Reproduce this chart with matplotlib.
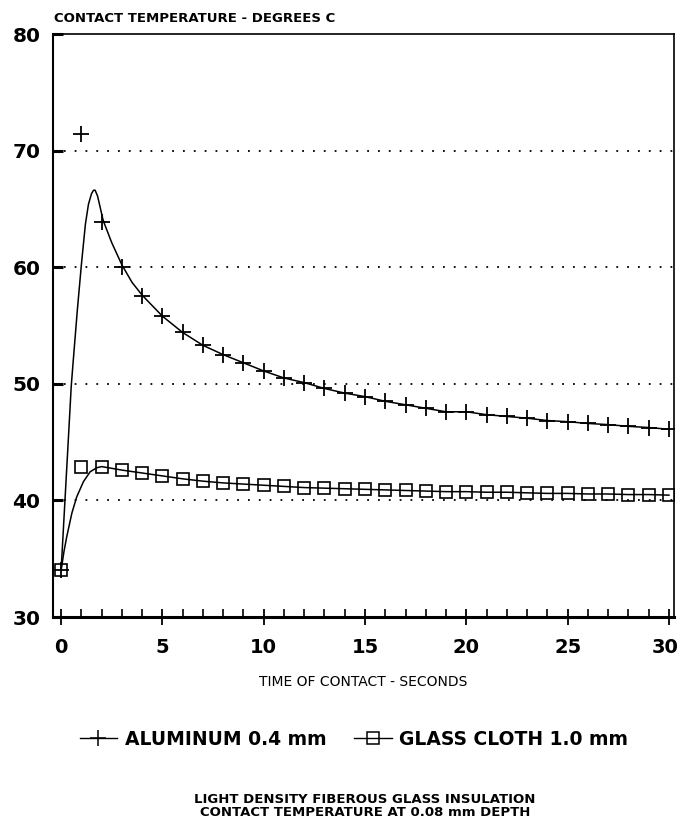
import matplotlib
matplotlib.use("Agg")
import matplotlib.pyplot as plt
import matplotlib.transforms as mtransforms
from matplotlib.lines import Line2D
from matplotlib.ticker import MultipleLocator

plt.rcParams['font.family'] = ['DejaVu Sans']
plt.rcParams['font.weight'] = 'bold'

# Measured points (markers), one reading per second
time_s = list(range(0, 31))
aluminum = [34.0, 71.4, 63.9, 60.0, 57.5, 55.8, 54.4, 53.3, 52.5, 51.8,
            51.1, 50.5, 50.1, 49.6, 49.2, 48.9, 48.5, 48.2, 47.9, 47.6,
            47.6, 47.35, 47.2, 47.05, 46.85, 46.75, 46.6, 46.5, 46.35, 46.25,
            46.1]
glass_cloth = [34.0, 42.9, 42.9, 42.6, 42.35, 42.1, 41.85, 41.65, 41.5, 41.4,
               41.3, 41.2, 41.1, 41.05, 41.0, 40.95, 40.9, 40.85, 40.8, 40.75,
               40.75, 40.7, 40.7, 40.65, 40.6, 40.6, 40.55, 40.55, 40.5, 40.5,
               40.45]

# Fitted curves
al_fit_t = [0, 0.2, 0.4, 0.5, 0.6, 0.8, 1.0, 1.2, 1.35, 1.5, 1.6, 1.68, 1.8,
            1.92, 2.05, 2.1, 2.5, 3.0, 3.5, 4.0] + list(range(5, 31))
al_fit_v = [34.0, 40.3, 46.6, 49.8, 52.0, 56.3, 60.2, 63.7, 65.4, 66.3, 66.6,
            66.6, 66.1, 65.2, 64.2, 63.9, 62.1, 60.2, 58.7, 57.6] + aluminum[5:]
gl_fit_t = [0, 0.14, 0.28, 0.53, 0.77, 1.1, 1.43, 1.76, 2.0] + list(range(3, 31))
gl_fit_v = [34.0, 35.6, 36.9, 38.9, 40.3, 41.6, 42.45, 42.8, 42.9] + glass_cloth[3:]

labels = ["ALUMINUM 0.4 mm", "GLASS CLOTH 1.0 mm"]

fig = plt.figure(figsize=(6.8, 8.22), dpi=100)
ax = fig.add_axes([53 / 680, 1 - 617 / 822, (674 - 53) / 680, (617 - 34) / 822])

ax.plot(al_fit_t, al_fit_v, color='black', lw=1.1)
ax.plot(gl_fit_t, gl_fit_v, color='black', lw=1.1)
ax.plot(time_s, aluminum, ls='none', marker='+', ms=12, mew=1.3, color='black')
ax.plot(time_s, glass_cloth, ls='none', marker='s', ms=9, mew=1.2,
        mfc='none', mec='black')

ax.set_xlim(-0.4, 30.25)
ax.set_ylim(30, 80)

# dotted reference lines
for yv in [40, 50, 60, 70]:
    ax.axhline(yv, color='black', lw=1.3, ls=(0, (1, 5)), dash_capstyle='butt')

ax.xaxis.set_major_locator(MultipleLocator(5))
ax.xaxis.set_minor_locator(MultipleLocator(1))
ax.yaxis.set_major_locator(MultipleLocator(10))
ax.tick_params(axis='x', which='major', direction='inout', length=12, width=1.3,
               pad=9, labelsize=14)
ax.tick_params(axis='x', which='minor', direction='in', length=6, width=1.2)
ax.tick_params(axis='y', which='major', direction='in', length=7, width=2.2,
               pad=9, labelsize=14.5)

ax.spines['bottom'].set_linewidth(2.2)
ax.spines['left'].set_linewidth(1.5)
ax.spines['top'].set_linewidth(1.2)
ax.spines['right'].set_linewidth(1.2)

ax.set_xlabel("TIME OF CONTACT - SECONDS", fontsize=10, labelpad=13)
fig.text(54 / 680, 1 - 18 / 822, "CONTACT TEMPERATURE - DEGREES C",
         ha='left', va='center', fontsize=9.5)

handles = [
    Line2D([], [], color='black', lw=1.0, marker='+', ms=11, mew=1.1),
    Line2D([], [], color='black', lw=1.0, marker='s', ms=8, mew=1.1, mfc='none'),
]
fig.legend(handles, labels, loc='center', bbox_to_anchor=(354 / 680, 1 - 739 / 822),
           ncol=2, frameon=False, fontsize=13.5, handlelength=2.0,
           handletextpad=0.4, columnspacing=1.5, numpoints=1)

fig.text(365 / 680, 1 - 806 / 822,
         "LIGHT DENSITY FIBEROUS GLASS INSULATION\nCONTACT TEMPERATURE AT 0.08 mm DEPTH",
         ha='center', va='center', fontsize=9.5, linespacing=1.0)

# keep the "30" inside the canvas
fig.canvas.draw()
for lab in ax.get_xticklabels():
    if lab.get_text() == '30':
        lab.set_transform(lab.get_transform() +
                          mtransforms.ScaledTranslation(-4 / 100, 0, fig.dpi_scale_trans))

fig.savefig("out.png", dpi=100)
plt.close(fig)
